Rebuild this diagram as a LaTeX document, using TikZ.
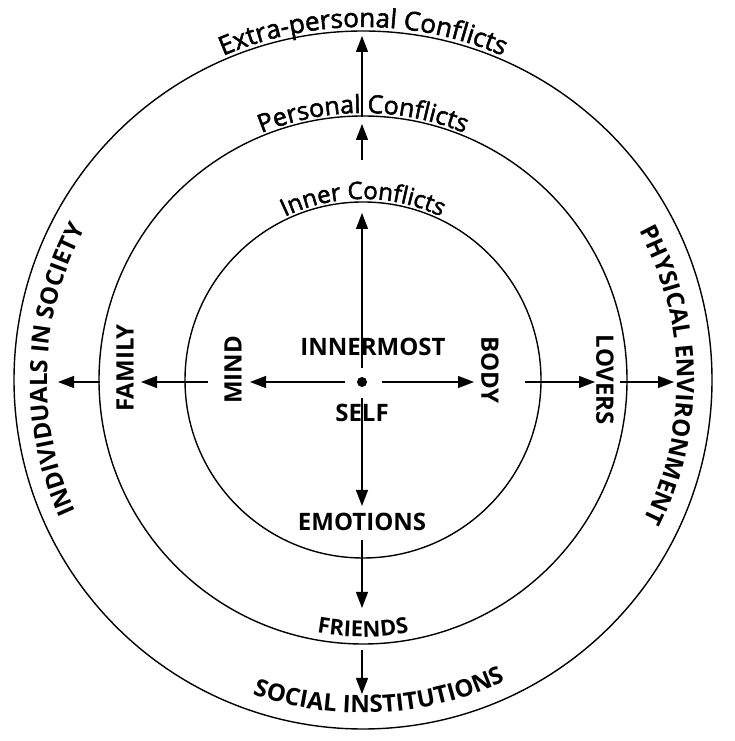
\documentclass[tikz,border=0pt]{standalone}
\usepackage{fontspec}
\setmainfont{Open Sans}
\newfontfamily\semifont[FakeBold=2]{Open Sans}
\usetikzlibrary{decorations.text,arrows.meta}
\begin{document}
\begin{tikzpicture}[x=1pt,y=1pt,
  ring/.style={line width=1.4pt},
  arr/.style={line width=1.1pt,-{Triangle[length=16pt,width=12pt]}},
  caplab/.style={font=\bfseries\fontsize{24}{24}\selectfont,inner sep=0pt},
  curvetext/.style={decorate,decoration={text along path,text align=center,text={#1}}}]
\useasboundingbox (0,0) rectangle (735,741);
\coordinate (C) at (363,361);
\draw[ring] (C) circle[radius=178];
\draw[ring] (C) circle[radius=264];
\draw[ring] (C) circle[radius=349];
\fill (362,359) circle[radius=5];
% curved texts
\path[curvetext={|\semifont\fontsize{26}{26}\selectfont|Extra-personal Conflicts}] (C) ++(150:353) arc[start angle=150,end angle=30,radius=353];
\path[curvetext={|\semifont\fontsize{25}{25}\selectfont|Personal Conflicts}] (C) ++(150:267) arc[start angle=150,end angle=30,radius=267];
\path[curvetext={|\semifont\fontsize{24}{24}\selectfont|Inner Conflicts}] (C) ++(140:181) arc[start angle=140,end angle=40,radius=181];
\path[curvetext={|\bfseries\fontsize{24}{24}\selectfont|INDIVIDUALS IN SOCIETY}] (C) ++(220:316) arc[start angle=220,end angle=136,radius=316];
\path[curvetext={|\bfseries\fontsize{24}{24}\selectfont|PHYSICAL ENVIRONMENT}] (C) ++(42:314) arc[start angle=42,end angle=-40,radius=314];
\path[curvetext={|\bfseries\fontsize{22}{22}\selectfont|FRIENDS}] (C) ++(240:257) arc[start angle=240,end angle=300,radius=257];
\path[curvetext={|\bfseries\fontsize{24}{24}\selectfont|SOCIAL INSTITUTIONS}] (C) ++(228:333) arc[start angle=228,end angle=318,radius=333];
% straight labels
\node[caplab] (inner) at (373,394) {INNERMOST};
\node[caplab] (self) at (362,328) {SELF};
\node[caplab] (emo) at (362,219) {EMOTIONS};
\node[caplab,rotate=90] (mind) at (233,371) {MIND};
\node[caplab,rotate=-90] (body) at (490,371) {BODY};
\node[caplab,rotate=90] (fam) at (125,373) {FAMILY};
\node[caplab,rotate=-90] (lov) at (605,361) {LOVERS};
% arrow coordinates
\coordinate (u0) at (362,373); \coordinate (u1) at (362,528);
\coordinate (u2) at (362,581); \coordinate (u3) at (362,617);
\coordinate (u4) at (362,624); \coordinate (u5) at (362,705);
\coordinate (d0) at (362,343); \coordinate (d1) at (362,235);
\coordinate (d2) at (362,201); \coordinate (d3) at (362,133);
\coordinate (d4) at (362,91); \coordinate (d5) at (362,47);
\coordinate (l0) at (345,359); \coordinate (l1) at (250,359);
\coordinate (l2) at (208,359); \coordinate (l3) at (141,359);
\coordinate (l4) at (100,359); \coordinate (l5) at (58,359);
\coordinate (r0) at (382,359); \coordinate (r1) at (474,359);
\coordinate (r2) at (525,359); \coordinate (r3) at (595,359);
\coordinate (r4) at (620,359); \coordinate (r5) at (674,359);
\foreach \a/\b in {u0/u1,u2/u3,u4/u5,d0/d1,d2/d3,d4/d5,l0/l1,l2/l3,l4/l5,r0/r1,r2/r3,r4/r5}
  \draw[arr] (\a) -- (\b);
\end{tikzpicture}
\end{document}
